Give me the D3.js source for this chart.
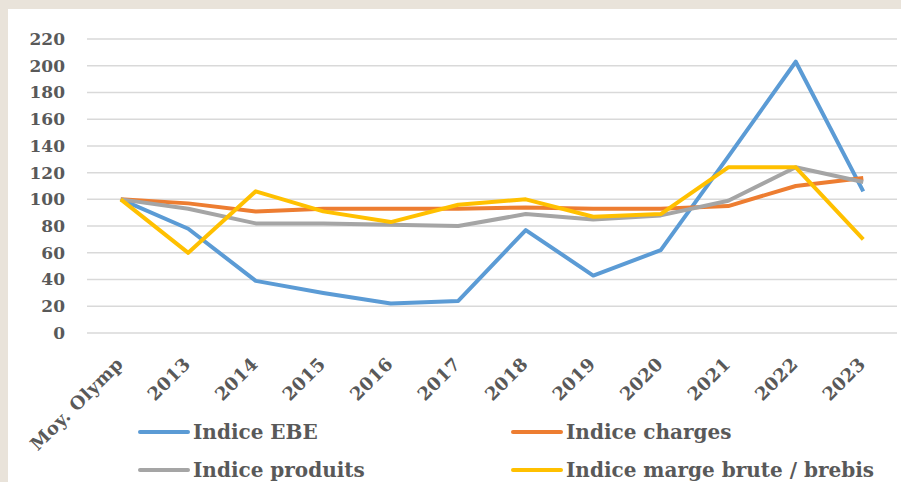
<!DOCTYPE html>
<html>
<head>
<meta charset="utf-8">
<script src="https://cdn.jsdelivr.net/npm/d3@7"></script>
<style>
  body { margin: 0; background: #e9e3da; }
  svg { display: block; }
  text { font-family: "DejaVu Serif", serif; font-weight: bold; fill: #595959; }
</style>
</head>
<body>
<div id="chart"></div>
<script>
// data
const categories = ["Moy. Olymp", "2013", "2014", "2015", "2016", "2017", "2018", "2019", "2020", "2021", "2022", "2023"];
const ebe = [100, 78, 39, 30, 22, 24, 77, 43, 62, 132, 203, 106];
const charges = [100, 97, 91, 93, 93, 93, 94, 93, 93, 95, 110, 116];
const produits = [100, 93, 82, 82, 81, 80, 89, 85, 88, 99, 124, 113];
const marge = [100, 60, 106, 91, 83, 96, 100, 87, 89, 124, 124, 70];
const yTicks = [0, 20, 40, 60, 80, 100, 120, 140, 160, 180, 200, 220];

const series = [
  { name: "Indice EBE", values: ebe, color: "#5b9bd5" },
  { name: "Indice charges", values: charges, color: "#ed7d31" },
  { name: "Indice produits", values: produits, color: "#a5a5a5" },
  { name: "Indice marge brute / brebis", values: marge, color: "#ffc000" }
];

const width = 901, height = 482;
const svg = d3.select("#chart")
  .append("svg")
  .attr("width", width)
  .attr("height", height);

// white panel
svg.append("rect")
  .attr("x", 8).attr("y", 9)
  .attr("width", width - 8).attr("height", height - 9)
  .attr("fill", "#ffffff");

const x = d3.scalePoint()
  .domain(categories)
  .range([87, 897])
  .padding(0.5);

const y = d3.scaleLinear()
  .domain([0, 220])
  .range([333, 39]);

// grid lines
svg.append("g")
  .selectAll("line")
  .data(yTicks)
  .enter()
  .append("line")
  .attr("x1", 87).attr("x2", 897)
  .attr("y1", d => y(d)).attr("y2", d => y(d))
  .attr("stroke", "#d9d9d9")
  .attr("stroke-width", 1.5);

// y axis labels
const yAxis = svg.append("g")
  .attr("transform", "translate(65,0)")
  .call(d3.axisLeft(y).tickValues(yTicks).tickSize(0).tickPadding(0));
yAxis.select(".domain").remove();
yAxis.selectAll("text")
  .attr("font-size", 17)
  .attr("font-family", "DejaVu Serif")
  .attr("fill", "#595959");

// x axis labels
const xAxis = svg.append("g")
  .attr("transform", "translate(0,333)")
  .call(d3.axisBottom(x).tickSize(0).tickPadding(0));
xAxis.select(".domain").remove();
xAxis.selectAll("text")
  .attr("font-size", 18)
  .attr("font-family", "DejaVu Serif")
  .attr("fill", "#595959")
  .attr("letter-spacing", 0.5)
  .attr("text-anchor", "end")
  .attr("dy", 0)
  .attr("transform", "translate(3,32) rotate(-45)");

// lines
const line = d3.line()
  .x((d, i) => x(categories[i]))
  .y(d => y(d));

svg.append("g")
  .selectAll("path")
  .data(series)
  .enter()
  .append("path")
  .attr("d", d => line(d.values))
  .attr("fill", "none")
  .attr("stroke", d => d.color)
  .attr("stroke-width", 4)
  .attr("stroke-linejoin", "round");

// legend
const legendPos = [[140, 432], [513, 432], [140, 470], [513, 470]];
const legend = svg.append("g")
  .selectAll("g")
  .data(series)
  .enter()
  .append("g")
  .attr("transform", (d, i) => `translate(${legendPos[i][0]},${legendPos[i][1]})`);

legend.append("line")
  .attr("x1", 0).attr("x2", 48)
  .attr("stroke", d => d.color)
  .attr("stroke-width", 4)
  .attr("stroke-linecap", "round");

legend.append("text")
  .attr("x", 53)
  .attr("dy", "0.35em")
  .attr("font-size", 20)
  .text(d => d.name);
</script>
</body>
</html>
